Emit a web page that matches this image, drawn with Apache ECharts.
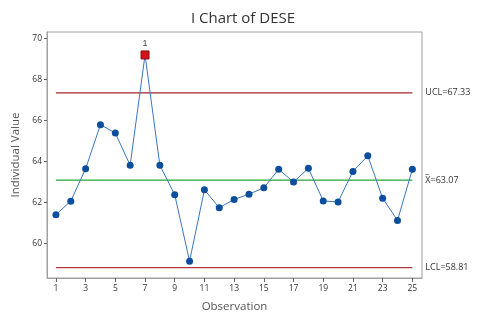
<!DOCTYPE html>
<html>
<head>
<meta charset="utf-8">
<script src="https://cdn.jsdelivr.net/npm/echarts@6/dist/echarts.min.js"></script>
<style>
  html, body { margin: 0; padding: 0; background: #fff; }
  #chart { width: 486px; height: 324px; }
</style>
</head>
<body>
<div id="chart"></div>
<script>
// Individual observations of DESE
const observations = [1,2,3,4,5,6,7,8,9,10,11,12,13,14,15,16,17,18,19,20,21,22,23,24,25];
const values = [61.39,62.05,63.63,65.78,65.37,63.80,69.18,63.80,62.36,59.12,62.60,61.73,62.13,62.39,62.70,63.60,62.98,63.65,62.06,62.01,63.50,64.26,62.19,61.11,63.60];
// Control limits
const ucl = 67.33;
const centerLine = 63.07;
const lcl = 58.81;
// Observations that fail test 1 (beyond limits)
const flagged = [7];
// Axis ticks
const xTicks = [1,3,5,7,9,11,13,15,17,19,21,23,25];
const yTicks = [60,62,64,66,68,70];

const firstObs = observations[0];
const lastObs = observations[observations.length - 1];

const pointData = observations.map((o, i) => {
  if (flagged.includes(o)) {
    return {
      value: [o, values[i]],
      symbol: 'rect',
      symbolSize: 8,
      itemStyle: { color: '#d0141c', borderColor: '#8c0a0f', borderWidth: 1 },
      label: { show: true, formatter: '1', position: 'top', distance: 2, color: '#444', fontSize: 9 }
    };
  }
  return [o, values[i]];
});

function limitSeries(y, color, text, offsetY) {
  return {
    type: 'line',
    data: [[firstObs, y], [lastObs, y]],
    symbol: 'none',
    silent: true,
    lineStyle: { color: color, width: 1.2 },
    z: 1,
    endLabel: {
      show: true,
      formatter: text,
      distance: 13,
      offset: [0, offsetY || 0],
      color: '#333',
      fontSize: 9,
      fontFamily: 'Open Sans',
      lineHeight: 10
    }
  };
}

const chart = echarts.init(document.getElementById('chart'), null, { renderer: 'canvas' });
chart.setOption({
  animation: false,
  backgroundColor: '#fff',
  title: {
    text: 'I Chart of DESE',
    left: 'center',
    top: 6,
    textStyle: { fontFamily: 'Open Sans', fontSize: 15, fontWeight: 'normal', color: '#333' }
  },
  grid: {
    left: 47, right: 64, top: 32, bottom: 46,
    show: true, borderColor: '#a0a0a0', borderWidth: 1, backgroundColor: '#fff'
  },
  xAxis: {
    type: 'value',
    min: 0.4, max: 25.65,
    name: 'Observation',
    nameLocation: 'middle',
    nameGap: 23,
    nameTextStyle: { fontFamily: 'Open Sans', fontSize: 11.5, color: '#555' },
    axisLine: { show: true, lineStyle: { color: '#a0a0a0' } },
    axisTick: { show: true, customValues: xTicks, length: 4, lineStyle: { color: '#666' } },
    axisLabel: { customValues: xTicks, fontSize: 8.5, color: '#333', fontFamily: 'Open Sans', margin: 6 },
    splitLine: { show: false }
  },
  yAxis: {
    type: 'value',
    min: 58.3, max: 70.3,
    name: 'Individual Value',
    nameLocation: 'middle',
    nameGap: 23,
    nameTextStyle: { fontFamily: 'Open Sans', fontSize: 11.5, color: '#555' },
    axisLine: { show: true, lineStyle: { color: '#a0a0a0' } },
    axisTick: { show: true, customValues: yTicks, length: 3, lineStyle: { color: '#666' } },
    axisLabel: { customValues: yTicks, fontSize: 8.5, color: '#333', fontFamily: 'Open Sans', margin: 5 },
    splitLine: { show: false }
  },
  series: [
    limitSeries(ucl, '#a3272b', 'UCL=' + ucl.toFixed(2)),
    limitSeries(centerLine, '#25a33b', '_\nX=' + centerLine.toFixed(2), -5),
    limitSeries(lcl, '#b0383c', 'LCL=' + lcl.toFixed(2)),
    {
      type: 'line',
      data: pointData,
      symbol: 'circle',
      symbolSize: 7,
      z: 5,
      lineStyle: { color: '#3a76bd', width: 1 },
      itemStyle: { color: '#0b4f9c' }
    }
  ]
});
</script>
</body>
</html>
